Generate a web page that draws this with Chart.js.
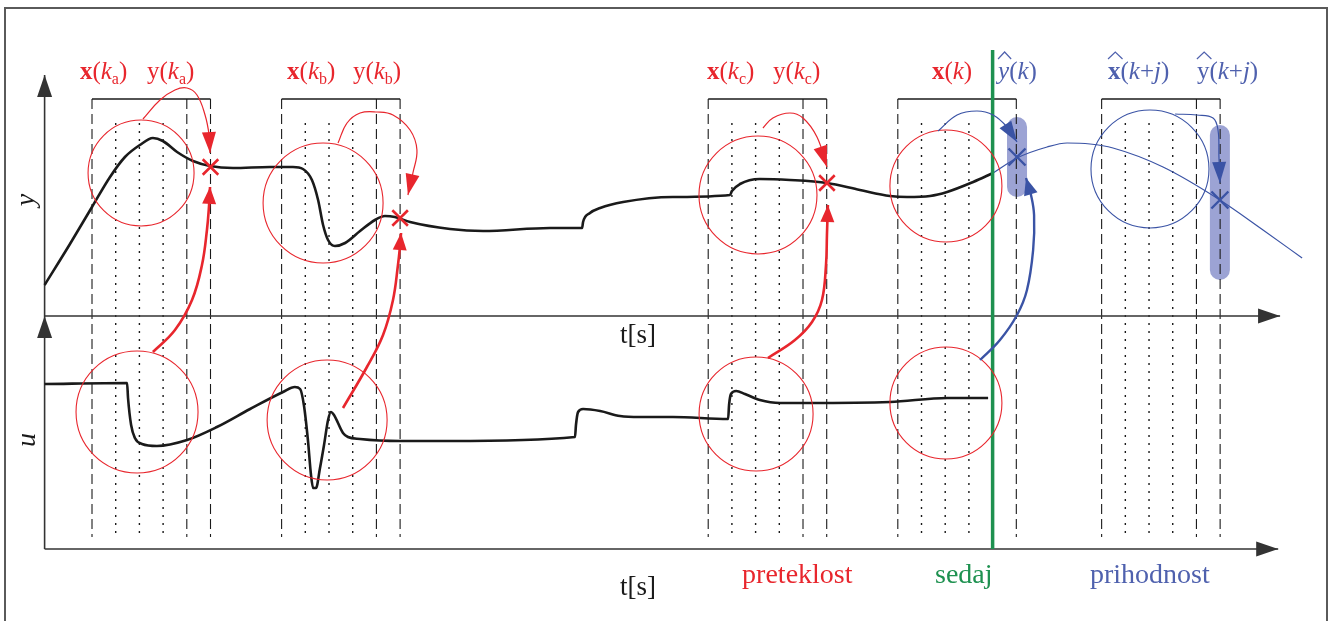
<!DOCTYPE html>
<html>
<head>
<meta charset="utf-8">
<script src="https://cdn.jsdelivr.net/npm/chart.js@4.4.0/dist/chart.umd.min.js"></script>
<style>
  html, body { margin: 0; padding: 0; background: #fff; }
  #wrap { width: 1331px; height: 621px; }
</style>
</head>
<body>
<div id="wrap"><canvas id="mpcChart" width="1331" height="621"></canvas></div>
<script>
// time is in sample periods, outputs in arbitrary units

// measured output y(t) up to "now"
const yTime = [0, 1.07, 2.0, 2.76, 3.39, 4.02, 4.57, 4.99, 5.59, 6.26, 6.98, 7.95, 9.51, 10.48, 10.9,
  11.28, 11.54, 11.75, 11.96, 12.25, 12.68, 13.31, 13.94, 14.36, 14.78, 15.42, 17.11, 18.5, 21.32, 22.68,
  22.72, 23.01, 23.44, 24.41, 26.51, 28.92, 29.0, 29.34, 30.18, 31.45, 33.01, 34.4, 35.67, 36.39, 37.36,
  38.08, 39.18, 40.02];
const yValues = [0.31, 0.72, 1.09, 1.39, 1.59, 1.71, 1.78, 1.75, 1.64, 1.55, 1.50, 1.48, 1.49, 1.49, 1.47,
  1.36, 1.16, 0.91, 0.76, 0.70, 0.73, 0.85, 0.96, 1.00, 0.99, 0.94, 0.87, 0.85, 0.88, 0.88,
  0.94, 1.03, 1.08, 1.14, 1.19, 1.21, 1.25, 1.32, 1.37, 1.36, 1.33, 1.26, 1.20, 1.19, 1.20,
  1.24, 1.34, 1.43];

// predicted output after "now"
const predTime = [40.02, 41.03, 42.3, 43.14, 44.11, 45.08, 47.19, 49.59, 51.41, 53.06];
const predValues = [1.43, 1.58, 1.69, 1.73, 1.72, 1.68, 1.49, 1.16, 0.86, 0.58];

// control input u(t)
const uTime = [0, 3.48, 3.52, 3.65, 3.81, 4.11, 4.74, 6.01, 7.27, 8.67, 10.06, 10.56, 10.78, 10.94, 11.11,
  11.24, 11.33, 11.45, 11.62, 11.79, 11.96, 12.08, 12.21, 12.59, 12.8, 13.31, 15.0, 17.11, 22.38, 22.42,
  22.51, 22.72, 23.44, 24.28, 25.12, 26.51, 28.84, 28.88, 28.96, 29.18, 29.55, 30.18, 31.03, 32.17, 35.67,
  38.08, 39.81];
const uValues = [1.65, 1.66, 1.51, 1.24, 1.11, 1.05, 1.03, 1.09, 1.22, 1.40, 1.57, 1.62, 1.60, 1.44, 1.09,
  0.74, 0.61, 0.61, 0.81, 1.04, 1.29, 1.37, 1.34, 1.16, 1.12, 1.10, 1.08, 1.08, 1.12, 1.24,
  1.37, 1.40, 1.38, 1.33, 1.32, 1.32, 1.30, 1.44, 1.55, 1.58, 1.55, 1.49, 1.46, 1.46, 1.47,
  1.51, 1.51];

// sampling windows (start sample of each), and the current instant
const windowStarts = [2, 10, 28, 36, 44.6];
const nowTime = 40;

// state circles on y and u
const stateYT = [4.07, 11.75, 30.1, 38.03];
const stateYV = [1.43, 1.13, 1.21, 1.30];
const stateUT = [3.9, 11.92, 30.02, 38.03];
const stateUV = [1.37, 1.29, 1.35, 1.46];
const predStateT = [46.64];
const predStateV = [1.47];

// outputs at the end of each window
const outT = [7, 15, 33.01];
const outV = [1.49, 0.98, 1.33];
const predOutT = [41.03, 49.59];
const predOutV = [1.59, 1.16];

// prediction bands
const bandT = [41.03, 49.59];
const bandHigh = [1.89, 1.81];
const bandLow = [1.29, 0.46];

// arrows from u-state to y-output  [t, y]
const linkA = [[4.57, -0.36], [5.50, -0.14], [6.22, 0.16], [6.64, 0.51], [6.85, 0.86], [6.94, 1.11], [6.98, 1.29]];
const linkB = [[12.59, -0.92], [13.6, -0.51], [14.28, -0.19], [14.7, 0.16], [14.91, 0.51], [15.0, 0.71], [15.04, 0.83]];
const linkC = [[30.52, -0.42], [31.66, -0.24], [32.38, -0.06], [32.8, 0.16], [32.97, 0.51], [33.01, 0.81], [33.05, 1.11]];
const linkNow = [[39.47, -0.44], [40.31, -0.24], [41.03, 0.01], [41.45, 0.26], [41.71, 0.66], [41.75, 1.01], [41.62, 1.21], [41.41, 1.38]];

// arcs from y-state to y-output
const arcA = [[4.15, 1.97], [4.87, 2.16], [5.5, 2.26], [6.01, 2.28], [6.43, 2.21], [6.77, 2.01], [6.94, 1.81], [6.98, 1.63]];
const arcB = [[12.38, 1.73], [12.76, 1.93], [13.31, 2.03], [14.03, 2.04], [14.7, 2.01], [15.42, 1.86], [15.71, 1.66], [15.54, 1.43], [15.33, 1.21]];
const arcC = [[30.31, 1.88], [30.73, 1.98], [31.45, 2.03], [32.0, 1.98], [32.59, 1.79], [33.01, 1.49]];
const arcNow = [[37.7, 1.85], [38.5, 2.01], [39.34, 2.05], [40.02, 2.01], [40.61, 1.89], [41.03, 1.74]];
const arcPred = [[47.7, 2.02], [48.62, 2.01], [49.3, 1.98], [49.51, 1.86], [49.55, 1.59], [49.59, 1.33]];

const RED = '#e8262d';
const BLUE = '#3a53a5';
const BLUE_TXT = '#4f61ae';
const GREEN = '#1e9150';
const INK = '#1a1a1a';
const SERIF = '"Liberation Serif", "DejaVu Serif", serif';

const pts = (ts, vs) => ts.map((t, i) => ({ x: t, y: vs[i] }));
const pairs = arr => arr.map(([x, y]) => ({ x, y }));

const datasets = [];

// sample grid + brackets
windowStarts.forEach((t0, g) => {
  for (let k = 0; k < 6; k++) {
    if (t0 + k === nowTime) continue;
    const dotted = k >= 1 && k <= 3;
    datasets.push({
      yAxisID: 'yTop', data: [{ x: t0 + k, y: dotted ? 1.93 : 2.17 }, { x: t0 + k, y: -2.21 }],
      borderColor: INK, borderWidth: dotted ? 1.4 : 1.1, borderDash: dotted ? [2, 6] : [10, 5], pointRadius: 0, order: 90
    });
  }
  datasets.push({
    yAxisID: 'yTop', data: [{ x: t0, y: 2.17 }, { x: t0 + 5, y: 2.17 }],
    borderColor: INK, borderWidth: 1.3, pointRadius: 0, order: 90
  });
});

// prediction bands
bandT.forEach((t, i) => {
  datasets.push({
    yAxisID: 'yTop', data: [{ x: t, y: bandHigh[i] }, { x: t, y: bandLow[i] }],
    borderColor: 'rgba(58,72,170,0.5)', borderWidth: 20, borderCapStyle: 'round', pointRadius: 0, order: 95
  });
});

// axes
datasets.push(
  { yAxisID: 'yTop', data: [{ x: 0, y: 0 }, { x: 52.13, y: 0 }], borderColor: '#333', borderWidth: 1.6, pointRadius: 0, arrow: { len: 22, half: 7.5 }, order: 80 },
  { yAxisID: 'yTop', data: [{ x: 0, y: 0 }, { x: 0, y: 2.41 }], borderColor: '#333', borderWidth: 1.6, pointRadius: 0, arrow: { len: 22, half: 7.5 }, order: 80 },
  { yAxisID: 'yBot', data: [{ x: 0, y: 0 }, { x: 52.05, y: 0 }], borderColor: '#333', borderWidth: 1.6, pointRadius: 0, arrow: { len: 22, half: 7.5 }, order: 80 },
  { yAxisID: 'yBot', data: [{ x: 0, y: 0 }, { x: 0, y: 2.33 }], borderColor: '#333', borderWidth: 1.6, pointRadius: 0, arrow: { len: 22, half: 7.5 }, order: 80 }
);

// signals
datasets.push(
  { yAxisID: 'yTop', data: pts(yTime, yValues), borderColor: INK, borderWidth: 2.6, pointRadius: 0, cubicInterpolationMode: 'monotone', order: 50 },
  { yAxisID: 'yTop', data: pts(predTime, predValues), borderColor: BLUE, borderWidth: 1.2, pointRadius: 0, cubicInterpolationMode: 'monotone', order: 50 },
  { yAxisID: 'yBot', data: pts(uTime, uValues), borderColor: INK, borderWidth: 2.6, pointRadius: 0, cubicInterpolationMode: 'monotone', order: 50 }
);

// "now" line
datasets.push({
  yAxisID: 'yTop', data: [{ x: nowTime, y: 2.66 }, { x: nowTime, y: -2.33 }],
  borderColor: GREEN, borderWidth: 3.5, pointRadius: 0, order: 45
});

// state circles
const circle = (axis, data, radii, color) => ({
  yAxisID: axis, data, showLine: false, pointRadius: radii, pointStyle: 'circle',
  pointBorderColor: color, pointBackgroundColor: 'rgba(0,0,0,0)', pointBorderWidth: 1.1, order: 40
});
datasets.push(
  circle('yTop', pts(stateYT, stateYV), [53, 60, 59, 56], RED),
  circle('yBot', pts(stateUT, stateUV), [61, 60, 57, 56], RED),
  circle('yTop', pts(predStateT, predStateV), [59], BLUE)
);

// arrows
const arrow = (path, color, width, head) => ({
  yAxisID: 'yTop', data: pairs(path), borderColor: color, borderWidth: width, tension: 0.4,
  pointRadius: 0, arrow: head, order: 30
});
const thick = { len: 17, half: 7 };
const thin = { len: 21, half: 7 };
datasets.push(
  arrow(linkA, RED, 2.6, thick), arrow(linkB, RED, 2.6, thick), arrow(linkC, RED, 2.6, thick),
  arrow(linkNow, BLUE, 2.4, thick),
  arrow(arcA, RED, 1.2, thin), arrow(arcB, RED, 1.2, thin), arrow(arcC, RED, 1.2, thin),
  arrow(arcNow, BLUE, 1.2, thin), arrow(arcPred, BLUE, 1.2, thin)
);

// output crosses
datasets.push(
  { yAxisID: 'yTop', data: pts(outT, outV), showLine: false, pointStyle: 'crossRot', pointRadius: 11, pointBorderWidth: 2.6, pointBorderColor: RED, order: 20 },
  { yAxisID: 'yTop', data: pts(predOutT, predOutV), showLine: false, pointStyle: 'crossRot', pointRadius: 12, pointBorderWidth: 2.4, pointBorderColor: BLUE, order: 20 }
);

// white page + frame
const framePlugin = {
  id: 'frame',
  beforeDraw(chart) {
    const ctx = chart.ctx;
    ctx.save();
    ctx.fillStyle = '#fff';
    ctx.fillRect(0, 0, chart.width, chart.height);
    ctx.strokeStyle = '#5a5a5a';
    ctx.lineWidth = 2;
    ctx.beginPath();
    ctx.moveTo(5, chart.height + 5);
    ctx.lineTo(5, 8);
    ctx.lineTo(1327, 8);
    ctx.lineTo(1327, chart.height + 5);
    ctx.stroke();
    ctx.restore();
  }
};

// filled arrowheads at the last point of datasets flagged with `arrow`
const arrowHeads = {
  id: 'arrowHeads',
  afterDatasetsDraw(chart) {
    const ctx = chart.ctx;
    chart.data.datasets.forEach((ds, i) => {
      if (!ds.arrow) return;
      const els = chart.getDatasetMeta(i).data;
      const tip = els[els.length - 1], prev = els[els.length - 2];
      const a = Math.atan2(tip.y - prev.y, tip.x - prev.x);
      ctx.save();
      ctx.translate(tip.x, tip.y);
      ctx.rotate(a);
      ctx.beginPath();
      ctx.moveTo(0, 0);
      ctx.lineTo(-ds.arrow.len, -ds.arrow.half);
      ctx.lineTo(-ds.arrow.len, ds.arrow.half);
      ctx.closePath();
      ctx.fillStyle = ds.borderColor;
      ctx.fill();
      ctx.restore();
    });
  }
};

const R = s => ({ s, f: `25px ${SERIF}` });
const B = s => ({ s, f: `bold 25px ${SERIF}` });
const I = s => ({ s, f: `italic 25px ${SERIF}` });
const S = s => ({ s, f: `16px ${SERIF}`, dy: 5 });
const hat = p => Object.assign(p, { hat: true });

const headLabels = [
  { t: 1.49, color: RED, parts: [B('x'), R('('), I('k'), S('a'), R(')')] },
  { t: 4.32, color: RED, parts: [R('y'), R('('), I('k'), S('a'), R(')')] },
  { t: 10.23, color: RED, parts: [B('x'), R('('), I('k'), S('b'), R(')')] },
  { t: 13.01, color: RED, parts: [R('y'), R('('), I('k'), S('b'), R(')')] },
  { t: 27.95, color: RED, parts: [B('x'), R('('), I('k'), S('c'), R(')')] },
  { t: 30.73, color: RED, parts: [R('y'), R('('), I('k'), S('c'), R(')')] },
  { t: 37.44, color: RED, parts: [B('x'), R('('), I('k'), R(')')] },
  { t: 40.23, color: BLUE_TXT, parts: [hat(I('y')), R('('), I('k'), R(')')] },
  { t: 44.87, color: BLUE_TXT, parts: [hat(B('x')), R('('), I('k'), R('+'), I('j'), R(')')] },
  { t: 48.62, color: BLUE_TXT, parts: [hat(R('y')), R('('), I('k'), R('+'), I('j'), R(')')] }
];

function drawRich(ctx, x, y, parts, color) {
  let cx = x;
  ctx.fillStyle = color;
  ctx.strokeStyle = color;
  ctx.textAlign = 'left';
  ctx.textBaseline = 'alphabetic';
  parts.forEach(p => {
    ctx.font = p.f;
    const w = ctx.measureText(p.s).width;
    ctx.fillText(p.s, cx, y + (p.dy || 0));
    if (p.hat) {
      ctx.lineWidth = 1.2;
      ctx.beginPath();
      ctx.moveTo(cx, y - 20);
      ctx.lineTo(cx + w / 2 + 1, y - 27);
      ctx.lineTo(cx + w + 2, y - 20);
      ctx.stroke();
    }
    cx += w;
  });
}

const textPlugin = {
  id: 'texts',
  afterDraw(chart) {
    const ctx = chart.ctx;
    const sx = chart.scales.x, st = chart.scales.yTop, sb = chart.scales.yBot;
    ctx.save();
    const base = st.getPixelForValue(2.37);
    headLabels.forEach(l => drawRich(ctx, sx.getPixelForValue(l.t), base, l.parts, l.color));

    const plain = (s, t, y, font, color) => {
      ctx.font = font;
      ctx.fillStyle = color;
      ctx.textAlign = 'left';
      ctx.fillText(s, sx.getPixelForValue(t), y);
    };
    plain('t[s]', 24.28, st.getPixelForValue(-0.27), `27px ${SERIF}`, INK);
    plain('t[s]', 24.28, sb.getPixelForValue(-0.46), `27px ${SERIF}`, INK);
    plain('preteklost', 29.43, sb.getPixelForValue(-0.34), `28px ${SERIF}`, RED);
    plain('sedaj', 37.57, sb.getPixelForValue(-0.34), `28px ${SERIF}`, GREEN);
    plain('prihodnost', 44.11, sb.getPixelForValue(-0.34), `28px ${SERIF}`, BLUE_TXT);

    // rotated axis names
    const side = (s, t, y) => {
      ctx.save();
      ctx.translate(sx.getPixelForValue(t), y);
      ctx.rotate(-Math.PI / 2);
      ctx.font = `italic 28px ${SERIF}`;
      ctx.fillStyle = INK;
      ctx.textAlign = 'center';
      ctx.fillText(s, 0, 0);
      ctx.restore();
    };
    side('y', -0.45, st.getPixelForValue(1.16));
    side('u', -0.41, sb.getPixelForValue(1.09));
    ctx.restore();
  }
};

const ctx = document.getElementById('mpcChart').getContext('2d');
const mpcChart = new Chart(ctx, {
  type: 'line',
  data: { datasets },
  options: {
    responsive: false,
    animation: false,
    devicePixelRatio: 1,
    events: [],
    layout: { padding: 0, autoPadding: false },
    plugins: { legend: { display: false }, tooltip: { enabled: false } },
    scales: {
      x: { type: 'linear', min: -1.882, max: 54.278, display: false },
      yTop: { type: 'linear', min: -3.05, max: 3.16, display: false },
      yBot: { type: 'linear', min: -0.72, max: 5.49, display: false }
    }
  },
  plugins: [framePlugin, arrowHeads, textPlugin]
});
</script>
</body>
</html>
